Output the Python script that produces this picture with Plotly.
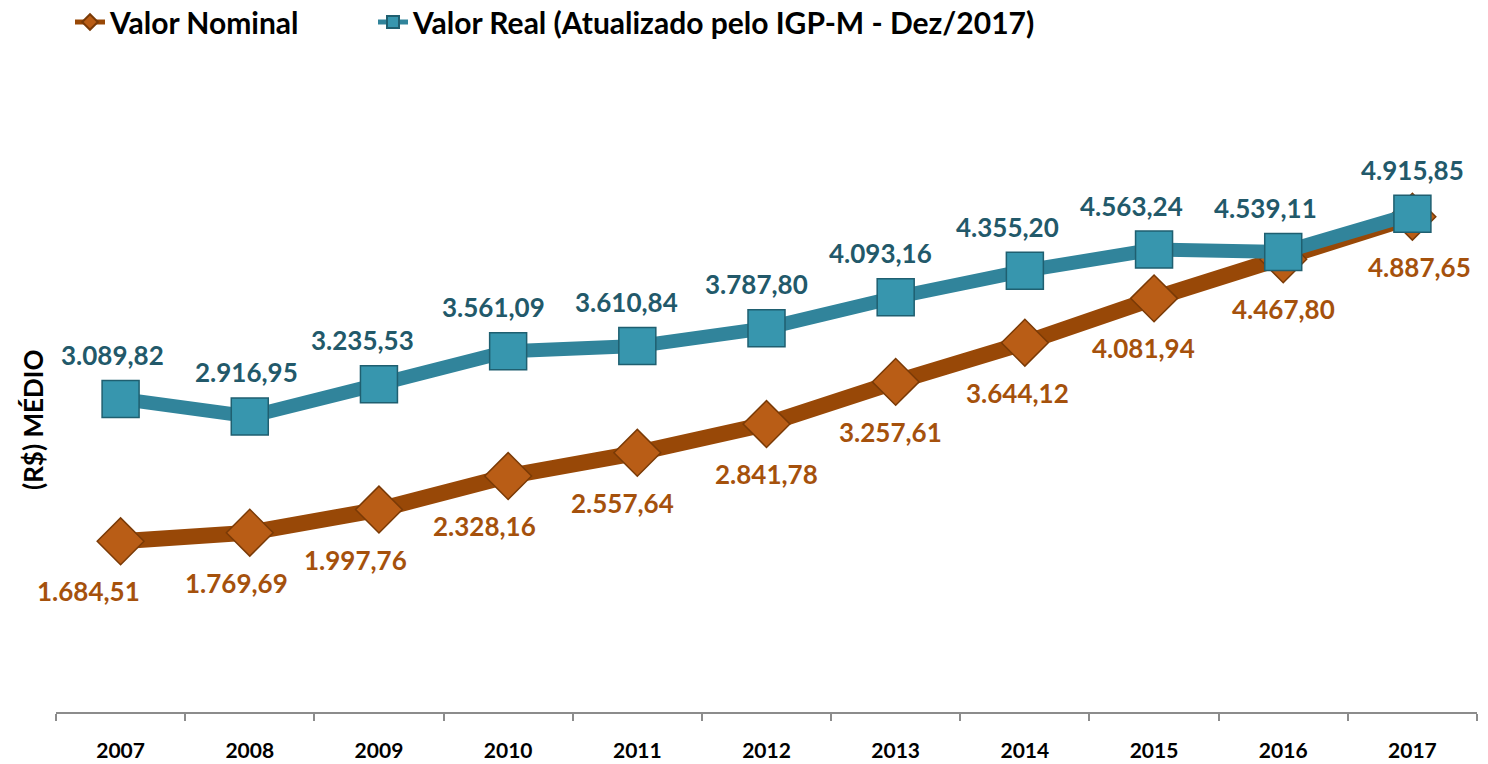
import plotly.graph_objects as go

years = ["2007", "2008", "2009", "2010", "2011", "2012", "2013", "2014", "2015", "2016", "2017"]
nominal = [1684.51, 1769.69, 1997.76, 2328.16, 2557.64, 2841.78, 3257.61, 3644.12, 4081.94, 4467.80, 4887.65]
real = [3089.82, 2916.95, 3235.53, 3561.09, 3610.84, 3787.80, 4093.16, 4355.20, 4563.24, 4539.11, 4915.85]

# horizontal nudges (px) of the data labels, as placed in the original chart
real_label_dx = [-8, -3, -16, -15, -11, -10, -15, -17, -23, -18, 0]
nominal_label_dx = [-32, -13, -23, -24, -15, 0, -5, -7, -11, 0, 7]

def fmt(v):
    s = f"{v:,.2f}"
    return s.replace(",", "X").replace(".", ",").replace("X", ".")

FONT = "Lato"
NOM_TXT = "#A5510C"
REAL_TXT = "#22596A"

fig = go.Figure()
fig.add_trace(go.Scatter(
    x=years, y=nominal, name="Valor Nominal", mode="lines+markers", legend="legend",
    line=dict(color="#984807", width=16),
    marker=dict(symbol="diamond", size=36, color="#B95D16", line=dict(color="#7A3A06", width=1.5)),
))
fig.add_trace(go.Scatter(
    x=years, y=real, name="Valor Real (Atualizado pelo IGP-M - Dez/2017)", mode="lines+markers",
    legend="legend2",
    line=dict(color="#31849B", width=14),
    marker=dict(symbol="square", size=37, color="#3796AE", line=dict(color="#1F5F70", width=1.5)),
))

annots = []
for i, v in enumerate(real):
    annots.append(dict(x=i, y=v, xref="x", yref="y", text=fmt(v), showarrow=False,
                       xanchor="center", yanchor="middle", yshift=44, xshift=real_label_dx[i],
                       font=dict(family=FONT, size=26, color=REAL_TXT, weight="bold")))
for i, v in enumerate(nominal):
    annots.append(dict(x=i, y=v, xref="x", yref="y", text=fmt(v), showarrow=False,
                       xanchor="center", yanchor="middle", yshift=-50, xshift=nominal_label_dx[i],
                       font=dict(family=FONT, size=26, color=NOM_TXT, weight="bold")))
annots.append(dict(text="(R$) MÉDIO", x=(33 - 56) / 1421, y=(712 - 420) / 608,
                   xref="paper", yref="paper", textangle=-90, showarrow=False,
                   xanchor="center", yanchor="middle",
                   font=dict(family=FONT, size=26, color="black", weight="bold")))

legend_style = dict(orientation="h", y=1 - 22 / 764, xref="container", yref="container",
                    xanchor="left", yanchor="middle",
                    font=dict(family=FONT, size=30, color="black", weight="bold"),
                    bgcolor="rgba(0,0,0,0)", itemsizing="constant")

fig.update_layout(
    width=1488, height=764,
    paper_bgcolor="white", plot_bgcolor="white",
    margin=dict(l=56, r=11, t=104, b=52, autoexpand=False),
    font=dict(family=FONT, size=22, color="black"),
    showlegend=True,
    legend=dict(x=70 / 1488, **legend_style),
    legend2=dict(x=373 / 1488, **legend_style),
    xaxis=dict(type="category", range=[-0.5, 10.5], autorange=False, showgrid=False,
               showline=True, linecolor="#8C8C8C", linewidth=2,
               ticks="outside", tickson="boundaries", ticklen=7, tickcolor="#8C8C8C", tickwidth=2,
               tickfont=dict(family=FONT, size=21, color="black", weight="bold"),
               ticklabelstandoff=19, zeroline=False, automargin=False),
    yaxis=dict(range=[0, 6000], showgrid=False, showline=False, showticklabels=False,
               zeroline=False, ticks="", automargin=False),
    annotations=annots,
)

fig.write_html("out.html", config={"displayModeBar": False},
               post_script="document.body.style.margin='0';document.body.style.overflow='hidden';")
